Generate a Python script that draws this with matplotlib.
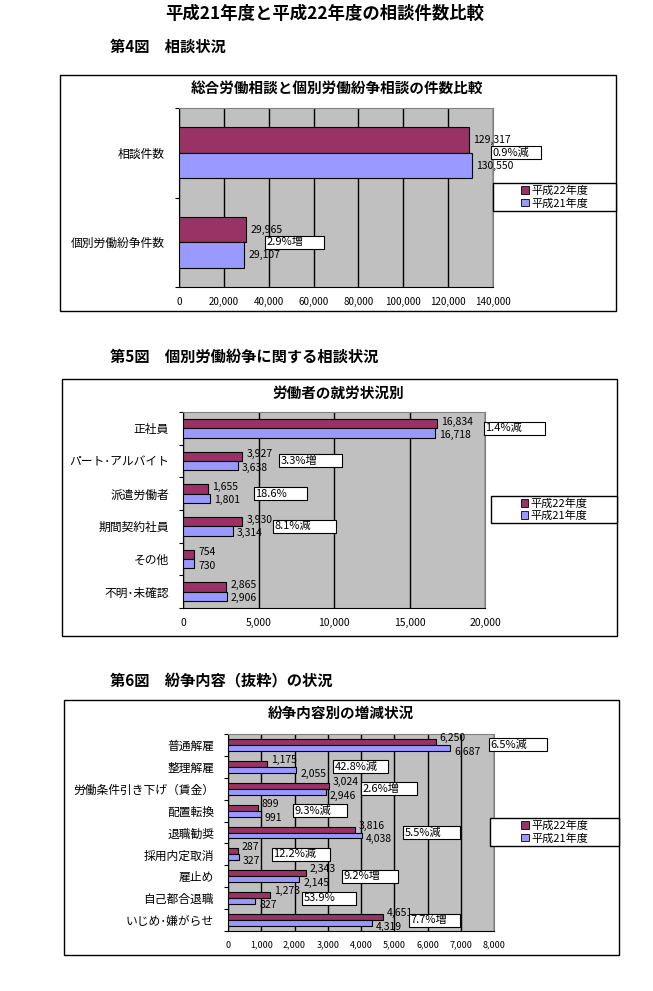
import matplotlib
matplotlib.use("Agg")
import matplotlib.pyplot as plt
from matplotlib.patches import Rectangle, Patch

plt.rcParams['font.family'] = ['Noto Sans CJK JP', 'DejaVu Sans']

# ===== datos =====
series_names = ['平成22年度', '平成21年度']

cats1 = ['相談件数', '個別労働紛争件数']
h22_1 = [129317, 29965]
h21_1 = [130550, 29107]
pct1 = ['0.9%減', '2.9%増']

cats2 = ['正社員', 'パート･アルバイト', '派遣労働者', '期間契約社員', 'その他', '不明･未確認']
h22_2 = [16834, 3927, 1655, 3930, 754, 2865]
h21_2 = [16718, 3638, 1801, 3314, 730, 2906]
pct2 = ['1.4%減', '3.3%増', '18.6%', '8.1%減', None, None]

cats3 = ['普通解雇', '整理解雇', '労働条件引き下げ（賃金）', '配置転換', '退職勧奨',
         '採用内定取消', '雇止め', '自己都合退職', 'いじめ･嫌がらせ']
h22_3 = [6250, 1175, 3024, 899, 3816, 287, 2343, 1273, 4651]
h21_3 = [6687, 2055, 2946, 991, 4038, 327, 2145, 827, 4319]
pct3 = ['6.5%減', '42.8%減', '2.6%増', '9.3%減', '5.5%減', '12.2%減', '9.2%増', '53.9%', '7.7%増']

# posicion de las cajitas de porcentaje (en unidades del eje x)
box_x1 = [139000, 38300]
box_w1 = [22300, 26300]
box_x2 = [19930, 6360, 4700, 5960, None, None]
box_w2 = [4040, 4170, 3510, 4170, None, None]
box_x3 = [7850, 3160, 4000, 1955, 5265, 1325, 3430, 2225, 5445]
box_w3 = [1745, 1655, 1685, 1625, 1715, 1745, 1685, 1625, 1535]

C22 = '#993366'
C21 = '#9999FF'
W, H = 653, 991

fig = plt.figure(figsize=(W / 100, H / 100), dpi=100)


def fig_rect(x0, y0, x1, y1):
    return [x0 / W, 1 - y1 / H, (x1 - x0) / W, (y1 - y0) / H]


def caja(x0, y0, x1, y1, fc='none', z=1):
    r = Rectangle((x0 / W, 1 - y1 / H), (x1 - x0) / W, (y1 - y0) / H,
                  transform=fig.transFigure, fc=fc, ec='black', lw=1, zorder=z)
    fig.add_artist(r)


def grafica(frame, plot, leg, cats, v22, v21, pct, bx, bw, xmax, step,
            title, tx, ty, bar_h, dy, tick_fs):
    caja(*frame)
    fig.text(tx / W, 1 - ty / H, title, ha='center', va='center',
             fontsize=10.5, fontweight='bold')
    ax = fig.add_axes(fig_rect(*plot))
    ax.set_facecolor('#C0C0C0')
    n = len(cats)
    idx = list(range(n))
    ax.barh([i - bar_h / 2 for i in idx], v22, height=bar_h, color=C22,
            edgecolor='black', lw=0.8, zorder=3)
    ax.barh([i + bar_h / 2 for i in idx], v21, height=bar_h, color=C21,
            edgecolor='black', lw=0.8, zorder=3)
    ax.set_ylim(n - 0.5, -0.5)
    ax.set_xlim(0, xmax)
    ax.set_xticks(range(0, xmax + 1, step))
    ax.set_xticklabels([f'{t:,}' for t in range(0, xmax + 1, step)], fontsize=tick_fs)
    ax.set_yticks(idx)
    ax.set_yticklabels(cats, fontsize=8.5)
    ax.set_yticks([i - 0.5 for i in range(n + 1)], minor=True)
    ax.tick_params(axis='y', which='major', length=0, pad=10)
    ax.tick_params(axis='y', which='minor', length=3, width=0.8)
    ax.tick_params(axis='x', length=0, pad=7)
    ax.xaxis.grid(True, color='black', lw=1)
    ax.set_axisbelow(True)
    for s in ['top', 'right']:
        ax.spines[s].set_color('#808080')
    for s in ['left', 'bottom']:
        ax.spines[s].set_color('black')

    for i in idx:
        ax.annotate(f'{v22[i]:,}', (v22[i], i - bar_h / 2), xytext=(4, dy),
                    textcoords='offset pixels', ha='left', va='center',
                    fontsize=7.5, annotation_clip=False, zorder=4)
        ax.annotate(f'{v21[i]:,}', (v21[i], i + bar_h / 2), xytext=(4, -dy),
                    textcoords='offset pixels', ha='left', va='center',
                    fontsize=7.5, annotation_clip=False, zorder=4)

    cat_px = (plot[3] - plot[1]) / n
    bh = 13 / cat_px
    for i in idx:
        if pct[i] is None:
            continue
        ax.add_patch(Rectangle((bx[i], i - bh / 2), bw[i], bh, fc='white',
                               ec='black', lw=0.8, clip_on=False, zorder=6))
        ax.text(bx[i] + xmax * 0.005, i, pct[i], ha='left', va='center',
                fontsize=8, zorder=7, clip_on=False)

    caja(*leg, fc='white', z=5)
    handles = [Patch(fc=C22, ec='black', lw=0.6), Patch(fc=C21, ec='black', lw=0.6)]
    lg = fig.legend(handles, series_names, loc='center',
                    bbox_to_anchor=((leg[0] + leg[2]) / 2 / W, 1 - (leg[1] + leg[3]) / 2 / H),
                    frameon=False, fontsize=8, handlelength=0.7, handleheight=0.7,
                    handletextpad=0.2, labelspacing=0.15, borderpad=0)
    lg.set_zorder(6)
    return ax


# titulos
fig.text(325 / W, 1 - 14 / H, '平成21年度と平成22年度の相談件数比較', ha='center',
         va='center', fontsize=12.5, fontweight='bold')
fig.text(110 / W, 1 - 47 / H, '第4図　相談状況', ha='left', va='center',
         fontsize=11, fontweight='bold')
fig.text(110 / W, 1 - 357 / H, '第5図　個別労働紛争に関する相談状況', ha='left',
         va='center', fontsize=11, fontweight='bold')
fig.text(110 / W, 1 - 680 / H, '第6図　紛争内容（抜粋）の状況', ha='left',
         va='center', fontsize=11, fontweight='bold')

grafica((60, 75, 616, 311), (179, 108, 493, 287), (493, 183, 616, 211),
        cats1, h22_1, h21_1, pct1, box_x1, box_w1, 140000, 20000,
        '総合労働相談と個別労働紛争相談の件数比較', 337, 88, 0.285, 0, 7)

grafica((62, 379, 617, 636), (183, 412, 485, 608), (491, 496, 617, 523),
        cats2, h22_2, h21_2, pct2, box_x2, box_w2, 20000, 5000,
        '労働者の就労状況別', 338, 393, 0.29, 2, 7.5)

grafica((64, 700, 619, 955), (228, 734, 494, 931), (490, 818, 619, 846),
        cats3, h22_3, h21_3, pct3, box_x3, box_w3, 8000, 1000,
        '紛争内容別の増減状況', 341, 713, 0.27, 4, 6.5)

fig.savefig('out.png', dpi=100)
